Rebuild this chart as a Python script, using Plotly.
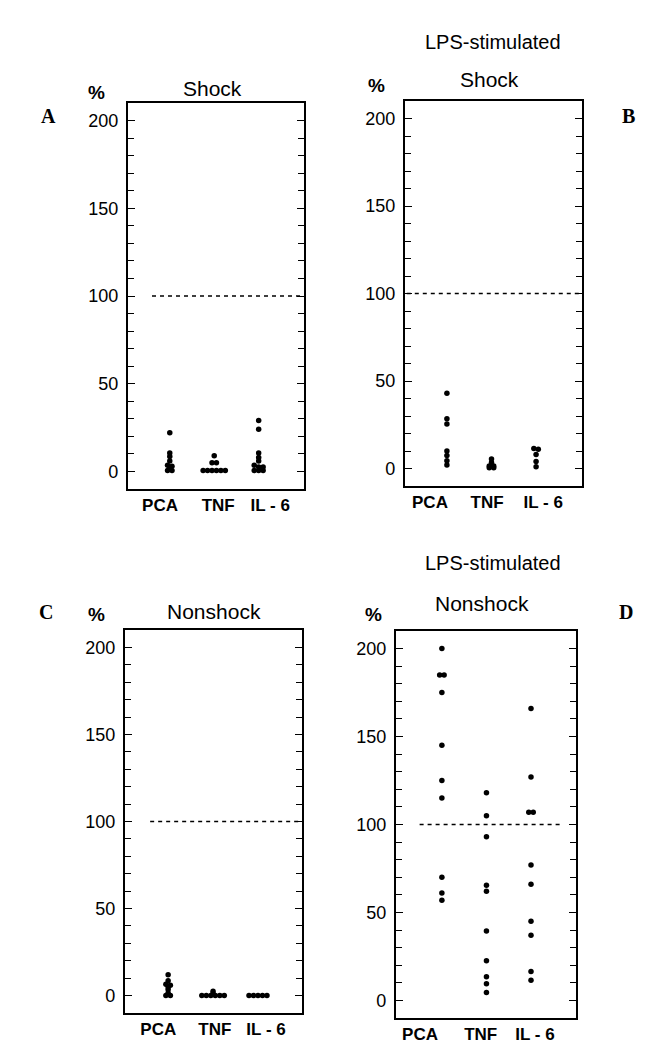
import plotly.graph_objects as go

W, H = 652, 1049

categories = ["PCA", "TNF", "IL - 6"]

# Panel A: Shock (unstimulated)
a_pca = [22, 10.5, 8.5, 6, 3.5, 3, 1.5, 0.5, 0.5]
a_tnf = [9, 5, 5, 0.5, 0.5, 0.5, 0.5, 0.5, 0.5]
a_il6 = [29, 24, 10.5, 8, 6, 3.5, 2.5, 2.5, 0.5, 0.5, 0.5]

# Panel B: Shock, LPS-stimulated
b_pca = [43, 28.5, 25.5, 10, 7.5, 4.5, 2]
b_tnf = [5.5, 3.5, 1.5, 1.5, 0.5, 0.5]
b_il6 = [11.5, 11, 8, 4, 1]

# Panel C: Nonshock (unstimulated)
c_pca = [12, 8.5, 6.5, 6, 5, 3.5, 1.5, 0, 0]
c_tnf = [2.5, 1, 0, 0, 0, 0, 0, 0]
c_il6 = [0, 0, 0, 0, 0]

# Panel D: Nonshock, LPS-stimulated
d_pca = [200, 185, 185, 175, 145, 125, 115, 70, 61, 57]
d_tnf = [118, 105, 93, 65.5, 62, 39.5, 22.5, 13.5, 9.5, 4.5]
d_il6 = [166, 127, 107, 107, 77, 66, 45, 37, 16.5, 11.5]

y_ticks = [0, 50, 100, 150, 200]
reference_level = 100

panels = {
    "A": dict(data=[a_pca, a_tnf, a_il6], box=(120, 296, 95, 481), xr=[0.06, 4.02],
              cat_pos=[0.78, 2.09, 3.26], dash=(0.6, 4.02)),
    "B": dict(data=[b_pca, b_tnf, b_il6], box=(397, 574, 93, 478), xr=[0.06, 4.03],
              cat_pos=[0.62, 1.9, 3.16], dash=(0.1, 4.03)),
    "C": dict(data=[c_pca, c_tnf, c_il6], box=(117, 294, 622, 1005), xr=[0.04, 3.98],
              cat_pos=[0.78, 2.04, 3.18], dash=(0.6, 3.98)),
    "D": dict(data=[d_pca, d_tnf, d_il6], box=(388, 568, 623, 1010), xr=[-0.03, 4.01],
              cat_pos=[0.51, 1.87, 3.09], dash=(0.5, 3.65)),
}

def px_x(x):
    return x / W

def px_y(y):
    return 1 - y / H

def dodge(values, center, bin_size=1.6, step=0.1):
    """Spread near-equal values side by side (layout only)."""
    counts = {}
    for v in values:
        key = round(v / bin_size)
        counts[key] = counts.get(key, 0) + 1
    seen = {}
    out = []
    for v in values:
        key = round(v / bin_size)
        n = seen.get(key, 0)
        seen[key] = n + 1
        out.append(center + (n - (counts[key] - 1) / 2) * step)
    return out

fig = go.Figure()
font_sans = "Liberation Sans, Arial, sans-serif"
font_serif = "Liberation Serif, Times New Roman, serif"

for i, (name, p) in enumerate(panels.items()):
    idx = "" if i == 0 else str(i + 1)
    xa, ya = "x" + idx, "y" + idx
    x0, x1, y0, y1 = p["box"]
    for ci, vals in enumerate(p["data"]):
        fig.add_trace(go.Scatter(
            x=dodge(vals, ci + 1), y=vals, mode="markers",
            marker=dict(color="black", size=5.5),
            xaxis=xa, yaxis=ya, showlegend=False, hoverinfo="y"))
    fig.update_layout(**{
        "xaxis" + idx: dict(domain=[px_x(x0), px_x(x1)], range=p["xr"], anchor=ya,
                            showline=True, linecolor="black", linewidth=2, mirror=True,
                            showgrid=False, zeroline=False, ticks="",
                            tickvals=p["cat_pos"],
                            ticktext=[f"<b>{c}</b>" for c in categories],
                            tickfont=dict(family=font_sans, size=17, color="black"),
                            fixedrange=True),
        "yaxis" + idx: dict(domain=[px_y(y1), px_y(y0)], range=[-10, 210], anchor=xa,
                            showline=True, linecolor="black", linewidth=2.2, mirror="ticks",
                            showgrid=False, zeroline=False, ticks="inside", ticklen=7,
                            tickwidth=1.2, tickcolor="black",
                            tickvals=y_ticks, ticklabelstandoff=4,
                            minor=dict(dtick=10, ticks="inside", ticklen=6, tickwidth=1.2,
                                       tickcolor="black", showgrid=False),
                            tickfont=dict(family=font_sans, size=18, color="black"),
                            fixedrange=True),
    })
    fig.add_shape(type="line", xref=xa, yref=ya, x0=p["dash"][0], x1=p["dash"][1],
                  y0=reference_level, y1=reference_level,
                  line=dict(color="black", width=1.3, dash="4px,4px"))

ann = [
    ("LPS-stimulated", 485, 34, 20, False, font_sans),
    ("Shock", 204, 80, 21, False, font_sans),
    ("%", 88, 84, 19, True, font_sans),
    ("A", 40, 108, 20, True, font_serif),
    ("Shock", 481, 71, 21, False, font_sans),
    ("%", 368, 77, 19, True, font_sans),
    ("B", 620, 108, 20, True, font_serif),
    ("LPS-stimulated", 485, 555, 20, False, font_sans),
    ("Nonshock", 206, 603, 21, False, font_sans),
    ("%", 88, 606, 19, True, font_sans),
    ("C", 38, 604, 20, True, font_serif),
    ("Nonshock", 474, 595, 21, False, font_sans),
    ("%", 365, 606, 19, True, font_sans),
    ("D", 618, 604, 20, True, font_serif),
]
for text, x, y, size, bold, fam in ann:
    fig.add_annotation(text=f"<b>{text}</b>" if bold else text, x=px_x(x), y=px_y(y),
                       xref="paper", yref="paper", showarrow=False,
                       xanchor="center", yanchor="middle",
                       font=dict(family=fam, size=size, color="black"))

fig.update_layout(width=W, height=H, margin=dict(l=0, r=0, t=0, b=0),
                  paper_bgcolor="white", plot_bgcolor="white")

fig.write_html("out.html")
